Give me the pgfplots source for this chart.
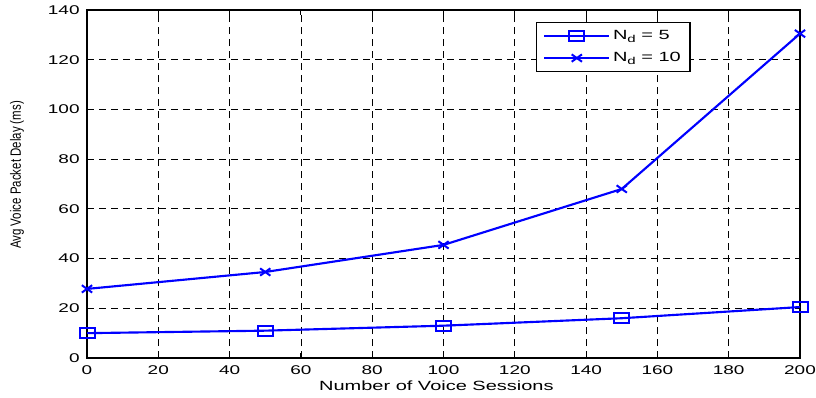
\documentclass[border=0pt]{standalone}
\usepackage{pgfplots}
\pgfplotsset{compat=1.18}
\usepackage{fontspec}
\setmainfont{Liberation Sans}
\definecolor{mblue}{RGB}{0,0,255}
% text is widened horizontally, as in the exported figure
\newcommand{\wide}[1]{\scalebox{1.5}[1]{#1}}
\newcommand{\Nd}{N\raisebox{-0.45ex}{\fontsize{7.5}{8}\selectfont d}}
\begin{document}
\begin{tikzpicture}
\begin{axis}[
  scale only axis,
  width=534.75pt, height=261pt,
  xmin=0, xmax=200, ymin=0, ymax=140,
  xtick={0,20,...,200}, ytick={0,20,...,140},
  tick align=inside, major tick length=4pt,
  xtick pos=both, ytick pos=both,
  grid=major,
  major grid style={black, dash pattern=on 5pt off 4pt, line width=0.55pt},
  axis line style={black, line width=1.1pt},
  tick style={black, line width=0.7pt},
  /pgf/number format/assume math mode=true,
  ticklabel style={font=\fontsize{9.5}{11}\selectfont},
  xticklabel={\wide{\pgfmathprintnumber{\tick}}},
  yticklabel={\wide{\pgfmathprintnumber{\tick}}},
  xticklabel style={yshift=-2pt},
  yticklabel style={xshift=-2pt},
  xlabel={\wide{Number of Voice Sessions}},
  ylabel={\scalebox{1}[1.3]{Avg Voice Packet Delay (ms)}},
  xlabel style={font=\fontsize{10}{12}\selectfont,
    at={(axis description cs:0.49,0)}, anchor=center, yshift=-21pt},
  ylabel style={font=\fontsize{8.6}{10}\selectfont,
    at={(axis description cs:0,0.526)}, anchor=center, yshift=52.5pt},
  legend style={at={(0.847,0.966)}, anchor=north east, draw=black,
    line width=1.1pt, font=\fontsize{10}{12}\selectfont,
    inner xsep=5pt, inner ysep=4pt, row sep=4pt,
    /tikz/every even column/.append style={column sep=4pt}},
  legend cell align=left,
  legend image code/.code={
    \draw[#1] (0pt,0pt) -- (48.75pt,0pt);
    \draw[#1, only marks] plot coordinates {(24.4pt,0pt)};
  },
]
\addplot[mblue, line width=1.6pt, mark=square, mark size=3.75pt,
  mark options={xscale=1.5, line width=1.5pt}]
  coordinates {(0,10) (50,11) (100,13) (150,16) (200,20.5)};
\addlegendentry{\wide{\Nd{} = 5}}
\addplot[mblue, line width=1.6pt, mark=x, mark size=3.9pt,
  mark options={xscale=1.4, line width=1.5pt}]
  coordinates {(0,27.8) (50,34.6) (100,45.5) (150,68) (200,130.5)};
\addlegendentry{\wide{\Nd{} = 10}}
\end{axis}
\pgfresetboundingbox
\path[use as bounding box]
  ([xshift=-65.25pt,yshift=-29.25pt]current axis.south west)
  rectangle ([xshift=12pt,yshift=7.5pt]current axis.north east);
\end{tikzpicture}
\end{document}
